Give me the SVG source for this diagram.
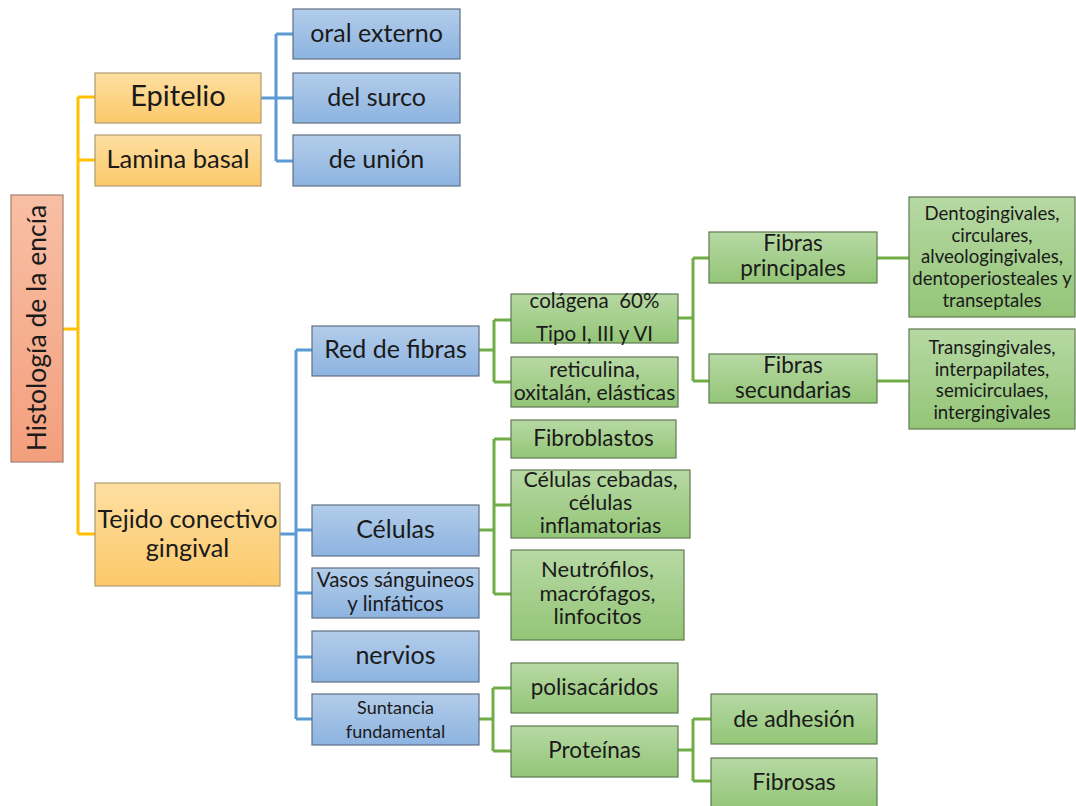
<svg xmlns="http://www.w3.org/2000/svg" width="1076" height="806" viewBox="0 0 1076 806">
  <defs>
    <linearGradient id="gOrange" x1="0" y1="0" x2="0" y2="1">
      <stop offset="0" stop-color="#fedfa2"/>
      <stop offset="1" stop-color="#fbc96a"/>
    </linearGradient>
    <linearGradient id="gBlue" x1="0" y1="0" x2="0" y2="1">
      <stop offset="0" stop-color="#b3cdea"/>
      <stop offset="1" stop-color="#8cb3e0"/>
    </linearGradient>
    <linearGradient id="gGreen" x1="0" y1="0" x2="0" y2="1">
      <stop offset="0" stop-color="#b7d9a4"/>
      <stop offset="1" stop-color="#93c577"/>
    </linearGradient>
    <linearGradient id="gRoot" x1="0" y1="0" x2="0" y2="1">
      <stop offset="0" stop-color="#f8bfa5"/>
      <stop offset="1" stop-color="#f39f7d"/>
    </linearGradient>
    <style>
      rect.box { stroke: #8a8a8a; stroke-width: 1.2; }
      rect.o { fill: url(#gOrange); stroke: #b09a70; }
      rect.b { fill: url(#gBlue); stroke: #5f6f82; }
      rect.g { fill: url(#gGreen); stroke: #5f7a52; }
      rect.r { fill: url(#gRoot); stroke: #a08070; }
      text { font-family: Lato, "Liberation Sans", sans-serif; fill: #1a1a1a; text-anchor: middle; }
      .yl { stroke: #ffc000; stroke-width: 3; fill: none; }
      .bl { stroke: #5b9bd5; stroke-width: 3; fill: none; }
      .gl { stroke: #70ad47; stroke-width: 3; fill: none; }
    </style>
  </defs>
  <rect width="1076" height="806" fill="#ffffff"/>

  <!-- connectors -->
  <g id="connectors">
    <!-- root to first level -->
    <path class="yl" d="M63 329H78 M78 97V534 M78 97H95 M78 160H95 M78 534H95"/>
    <!-- Epitelio children -->
    <path class="bl" d="M261 98H276 M276 34V161 M276 34H293 M276 98H293 M276 161H293"/>
    <!-- Tejido conectivo children -->
    <path class="bl" d="M280 534H296 M296 350V719 M296 350H312 M296 530H312 M296 593H312 M296 657H312 M296 719H312"/>
    <!-- Red de fibras children -->
    <path class="gl" d="M479 350H494 M494 320V382 M494 320H511 M494 382H511"/>
    <!-- colágena children -->
    <path class="gl" d="M678 318H693 M693 258V381 M693 258H709 M693 381H709"/>
    <path class="gl" d="M877 258H909 M877 381H909"/>
    <!-- Células children -->
    <path class="gl" d="M479 530H494 M494 439V594 M494 439H511 M494 505H511 M494 594H511"/>
    <!-- Suntancia fundamental children -->
    <path class="gl" d="M479 719H493 M493 688V751 M493 688H511 M493 751H511"/>
    <!-- Proteínas children -->
    <path class="gl" d="M678 750H693 M693 719V781 M693 719H711 M693 781H711"/>
  </g>

  <g id="root">
    <rect class="box r" x="11" y="195" width="52" height="267"/>
    <text font-size="26.5" transform="translate(45.5 328) rotate(-90)">Histología de la encía</text>
  </g>

  <g id="epitelio">
    <rect class="box o" x="95" y="73" width="166" height="50"/>
    <text x="178" y="106" font-size="29">Epitelio</text>
  </g>
  <g id="lamina-basal">
    <rect class="box o" x="95" y="135" width="166" height="51"/>
    <text x="178" y="168" font-size="25.5">Lamina basal</text>
  </g>
  <g id="tejido-conectivo">
    <rect class="box o" x="95" y="483" width="185" height="103"/>
    <text x="187.5" y="528" font-size="25.2">Tejido conectivo</text>
    <text x="187.5" y="557" font-size="25.2">gingival</text>
  </g>

  <g id="oral-externo">
    <rect class="box b" x="293" y="9" width="167" height="50"/>
    <text x="376.5" y="42" font-size="25">oral externo</text>
  </g>
  <g id="del-surco">
    <rect class="box b" x="293" y="73" width="167" height="50"/>
    <text x="376.5" y="106" font-size="25">del surco</text>
  </g>
  <g id="de-union">
    <rect class="box b" x="293" y="135" width="167" height="51"/>
    <text x="376.5" y="168" font-size="25">de unión</text>
  </g>

  <g id="red-de-fibras">
    <rect class="box b" x="312" y="326" width="167" height="50"/>
    <text x="395.5" y="358" font-size="25">Red de fibras</text>
  </g>
  <g id="celulas">
    <rect class="box b" x="312" y="505" width="167" height="51"/>
    <text x="395.5" y="538" font-size="25">Células</text>
  </g>
  <g id="vasos">
    <rect class="box b" x="312" y="568" width="167" height="50"/>
    <text x="395.5" y="587" font-size="20.5">Vasos sánguineos</text>
    <text x="395.5" y="611" font-size="20.5">y linfáticos</text>
  </g>
  <g id="nervios">
    <rect class="box b" x="312" y="631" width="167" height="51"/>
    <text x="395.5" y="664" font-size="25">nervios</text>
  </g>
  <g id="suntancia">
    <rect class="box b" x="312" y="694" width="167" height="51"/>
    <text x="395.5" y="714" font-size="18">Suntancia</text>
    <text x="395.5" y="738" font-size="18">fundamental</text>
  </g>

  <g id="colagena">
    <rect class="box g" x="511" y="294" width="167" height="49"/>
    <text x="594.5" y="308" font-size="20.5" xml:space="preserve">colágena  60%</text>
    <text x="594.5" y="341" font-size="20.5">Tipo I, III y VI</text>
  </g>
  <g id="reticulina">
    <rect class="box g" x="511" y="357" width="167" height="50"/>
    <text x="594.5" y="377" font-size="21.2">reticulina,</text>
    <text x="594.5" y="400" font-size="21.2">oxitalán, elásticas</text>
  </g>
  <g id="fibroblastos">
    <rect class="box g" x="511" y="420" width="165" height="38"/>
    <text x="593.5" y="446" font-size="22.5">Fibroblastos</text>
  </g>
  <g id="celulas-cebadas">
    <rect class="box g" x="511" y="470" width="179" height="68"/>
    <text x="600.5" y="487" font-size="21.5">Células cebadas,</text>
    <text x="600.5" y="510" font-size="21.5">células</text>
    <text x="600.5" y="533" font-size="21.5">inflamatorias</text>
  </g>
  <g id="neutrofilos">
    <rect class="box g" x="511" y="550" width="173" height="90"/>
    <text x="597.5" y="577" font-size="22">Neutrófilos,</text>
    <text x="597.5" y="601" font-size="22">macrófagos,</text>
    <text x="597.5" y="624" font-size="22">linfocitos</text>
  </g>
  <g id="polisacaridos">
    <rect class="box g" x="511" y="663" width="167" height="50"/>
    <text x="594.5" y="695" font-size="22.5">polisacáridos</text>
  </g>
  <g id="proteinas">
    <rect class="box g" x="511" y="726" width="167" height="51"/>
    <text x="594.5" y="758" font-size="22.5">Proteínas</text>
  </g>

  <g id="fibras-principales">
    <rect class="box g" x="709" y="232" width="168" height="51"/>
    <text x="793" y="251" font-size="22.5">Fibras</text>
    <text x="793" y="276" font-size="22.5">principales</text>
  </g>
  <g id="fibras-secundarias">
    <rect class="box g" x="709" y="354" width="168" height="49"/>
    <text x="793" y="373" font-size="22.5">Fibras</text>
    <text x="793" y="398" font-size="22.5">secundarias</text>
  </g>
  <g id="de-adhesion">
    <rect class="box g" x="711" y="694" width="166" height="50"/>
    <text x="794" y="727" font-size="23">de adhesión</text>
  </g>
  <g id="fibrosas">
    <rect class="box g" x="711" y="758" width="166" height="50"/>
    <text x="794" y="790" font-size="23">Fibrosas</text>
  </g>

  <g id="dentogingivales">
    <rect class="box g" x="909" y="197" width="166" height="120"/>
    <text x="992" y="220" font-size="18.6">Dentogingivales,</text>
    <text x="992" y="242" font-size="18.6">circulares,</text>
    <text x="992" y="263" font-size="18.6">alveologingivales,</text>
    <text x="992" y="285" font-size="18.6">dentoperiosteales y</text>
    <text x="992" y="307" font-size="18.6">transeptales</text>
  </g>
  <g id="transgingivales">
    <rect class="box g" x="909" y="329" width="166" height="100"/>
    <text x="992" y="354" font-size="18.6">Transgingivales,</text>
    <text x="992" y="376" font-size="18.6">interpapilates,</text>
    <text x="992" y="397" font-size="18.6">semicirculaes,</text>
    <text x="992" y="419" font-size="18.6">intergingivales</text>
  </g>
</svg>
